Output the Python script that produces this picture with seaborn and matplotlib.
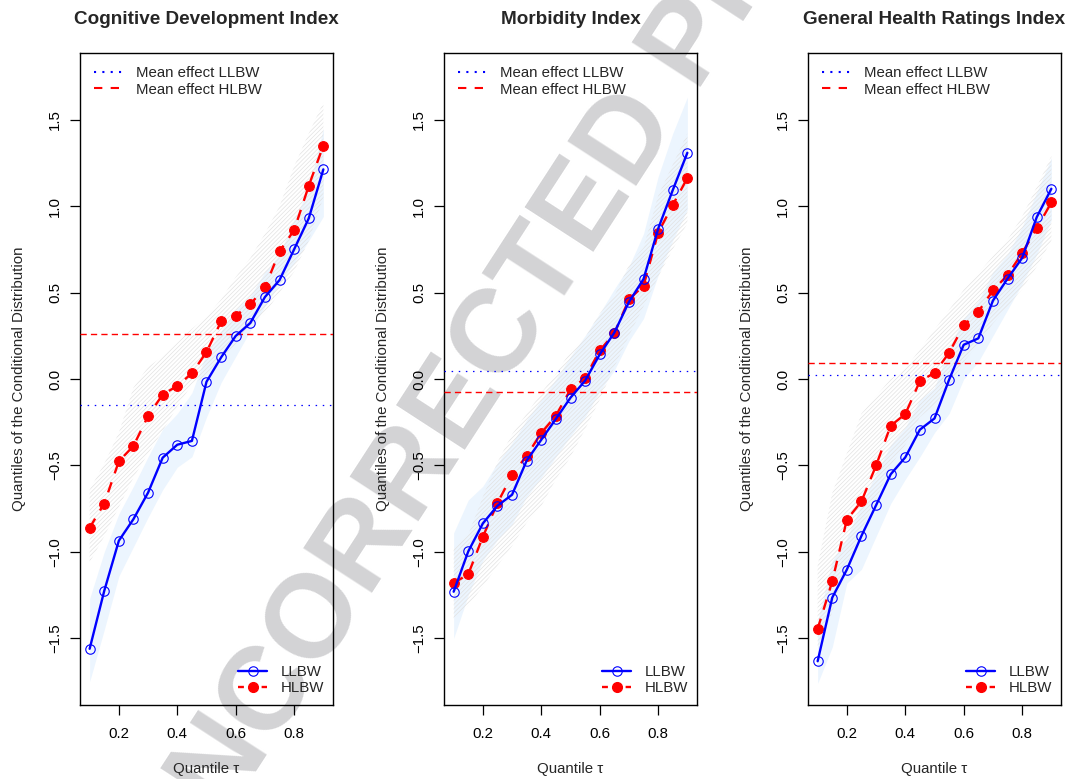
import matplotlib
matplotlib.use("Agg")
import matplotlib.pyplot as plt
import seaborn as sns
from matplotlib.lines import Line2D

# ---------------- data ----------------
tau = [0.10, 0.15, 0.20, 0.25, 0.30, 0.35, 0.40, 0.45, 0.50,
       0.55, 0.60, 0.65, 0.70, 0.75, 0.80, 0.85, 0.90]

titles = ["Cognitive Development Index", "Morbidity Index", "General Health Ratings Index"]

# Cognitive Development Index
cog_llbw = [-1.56, -1.225, -0.935, -0.81, -0.657, -0.455, -0.38, -0.358, -0.016,
            0.125, 0.249, 0.324, 0.474, 0.572, 0.75, 0.929, 1.212]
cog_hlbw = [-0.86, -0.72, -0.476, -0.387, -0.214, -0.09, -0.04, 0.033, 0.156,
            0.333, 0.366, 0.432, 0.53, 0.738, 0.861, 1.117, 1.35]
cog_llbw_lo = [-1.75, -1.45, -1.14, -0.97, -0.80, -0.64, -0.51, -0.45, -0.22,
               -0.02, 0.13, 0.28, 0.42, 0.55, 0.67, 0.80, 0.94]
cog_llbw_hi = [-1.27, -1.00, -0.78, -0.62, -0.45, -0.29, -0.20, -0.08, 0.15,
               0.28, 0.40, 0.48, 0.62, 0.72, 0.92, 1.10, 1.45]
cog_hlbw_lo = [-1.06, -0.91, -0.74, -0.57, -0.43, -0.30, -0.16, -0.03, 0.02,
               0.12, 0.20, 0.30, 0.38, 0.50, 0.62, 0.80, 1.05]
cog_hlbw_hi = [-0.64, -0.49, -0.31, -0.05, 0.07, 0.13, 0.21, 0.29, 0.36,
               0.46, 0.59, 0.70, 0.84, 1.00, 1.23, 1.42, 1.60]
cog_mean = [-0.148, 0.262]  # LLBW, HLBW

# Morbidity Index
mor_llbw = [-1.23, -0.997, -0.835, -0.733, -0.669, -0.472, -0.351, -0.231, -0.108,
            -0.01, 0.142, 0.268, 0.445, 0.578, 0.869, 1.092, 1.308]
mor_hlbw = [-1.18, -1.129, -0.912, -0.717, -0.555, -0.443, -0.312, -0.212, -0.06,
            0.006, 0.165, 0.264, 0.46, 0.539, 0.846, 1.006, 1.162]
mor_llbw_lo = [-1.50, -1.25, -1.05, -0.93, -0.84, -0.68, -0.57, -0.45, -0.33,
               -0.22, -0.07, 0.05, 0.22, 0.35, 0.60, 0.80, 0.98]
mor_llbw_hi = [-0.89, -0.70, -0.62, -0.485, -0.37, -0.235, -0.12, 0.0, 0.13,
               0.25, 0.38, 0.52, 0.65, 0.84, 1.17, 1.42, 1.63]
mor_hlbw_lo = [-1.39, -1.31, -1.20, -1.08, -0.965, -0.83, -0.735, -0.58, -0.45,
               -0.29, -0.12, 0.07, 0.25, 0.42, 0.59, 0.75, 0.90]
mor_hlbw_hi = [-0.98, -0.90, -0.68, -0.48, -0.32, -0.20, -0.08, 0.03, 0.16,
               0.24, 0.38, 0.48, 0.66, 0.76, 1.06, 1.24, 1.42]
mor_mean = [0.046, -0.075]

# General Health Ratings Index
gen_llbw = [-1.632, -1.264, -1.102, -0.907, -0.73, -0.551, -0.453, -0.293, -0.228,
            -0.004, 0.198, 0.235, 0.453, 0.58, 0.70, 0.936, 1.10]
gen_hlbw = [-1.445, -1.17, -0.813, -0.708, -0.5, -0.27, -0.203, -0.012, 0.035,
            0.152, 0.31, 0.389, 0.512, 0.601, 0.728, 0.871, 1.021]
gen_llbw_lo = [-1.76, -1.55, -1.18, -1.10, -0.91, -0.72, -0.58, -0.45, -0.31,
               -0.20, 0.00, 0.10, 0.25, 0.40, 0.55, 0.72, 0.92]
gen_llbw_hi = [-1.40, -1.05, -0.92, -0.72, -0.55, -0.38, -0.28, -0.12, -0.05,
               0.18, 0.35, 0.45, 0.62, 0.72, 0.88, 1.08, 1.28]
gen_hlbw_lo = [-1.55, -1.35, -1.08, -0.87, -0.70, -0.50, -0.38, -0.22, -0.15,
               -0.05, 0.10, 0.20, 0.32, 0.42, 0.52, 0.65, 0.80]
gen_hlbw_hi = [-1.08, -0.66, -0.43, -0.20, -0.10, 0.00, 0.06, 0.17, 0.285,
               0.40, 0.516, 0.61, 0.71, 0.805, 0.94, 1.11, 1.29]
gen_mean = [0.025, 0.09]

panels = [
    (cog_llbw, cog_hlbw, cog_llbw_lo, cog_llbw_hi, cog_hlbw_lo, cog_hlbw_hi, cog_mean),
    (mor_llbw, mor_hlbw, mor_llbw_lo, mor_llbw_hi, mor_hlbw_lo, mor_hlbw_hi, mor_mean),
    (gen_llbw, gen_hlbw, gen_llbw_lo, gen_llbw_hi, gen_hlbw_lo, gen_hlbw_hi, gen_mean),
]

xticks = [0.2, 0.4, 0.6, 0.8]
yticks = [-1.5, -1.0, -0.5, 0.0, 0.5, 1.0, 1.5]

# ---------------- style ----------------
sns.set_theme(style="white")
plt.rcParams["font.family"] = ["Liberation Sans", "DejaVu Sans"]
plt.rcParams["font.size"] = 10.8
plt.rcParams["hatch.linewidth"] = 0.5

W, H = 1067, 779
fig = plt.figure(figsize=(W / 100, H / 100), dpi=100)
fig.patch.set_facecolor("white")

# watermark (behind the axes content)
fig.text(552 / W, 1 - 316 / H, "UNCORRECTED PROOF", fontsize=85, fontweight="bold",
         color="#d3d3d5", rotation=57, rotation_mode="anchor",
         ha="center", va="baseline", zorder=-1)

lefts = [80, 444, 808]
ax_w, ax_top, ax_bot = 253, 53, 705

for i, (ll, hl, ll_lo, ll_hi, hl_lo, hl_hi, means) in enumerate(panels):
    ax = fig.add_axes([lefts[i] / W, 1 - ax_bot / H, ax_w / W, (ax_bot - ax_top) / H])
    ax.set_facecolor("none")

    # confidence bands
    ax.fill_between(tau, ll_lo, ll_hi, color="#ecf5fe", linewidth=0, zorder=1)
    ax.fill_between(tau, hl_lo, hl_hi, facecolor="none", edgecolor="#e2e2e2",
                    hatch="////////", linewidth=0, zorder=2)

    # mean effects
    ax.axhline(means[0], color="blue", lw=0.9, linestyle=(0, (1.2, 4.5)), zorder=3)
    ax.axhline(means[1], color="red", lw=1.0, linestyle=(0, (4.5, 3)), zorder=3)

    # quantile curves
    sns.lineplot(x=tau, y=ll, ax=ax, color="blue", lw=1.7, marker="o", markersize=6.8,
                 markerfacecolor="none", markeredgecolor="blue", markeredgewidth=0.8,
                 errorbar=None, legend=False, zorder=5)
    sns.lineplot(x=tau, y=hl, ax=ax, color="red", lw=1.7, linestyle=(0, (4.5, 4)),
                 marker="o", markersize=7, markerfacecolor="red", markeredgecolor="red",
                 markeredgewidth=0.8, errorbar=None, legend=False, zorder=4)

    ax.set_xlim(0.067, 0.933)
    ax.set_ylim(-1.885, 1.885)
    ax.set_xticks(xticks)
    ax.set_yticks(yticks)
    ax.tick_params(axis="both", which="major", direction="out", length=7, width=0.9,
                   labelsize=10.8, colors="black", bottom=True, left=True)
    ax.tick_params(axis="x", pad=9)
    ax.tick_params(axis="y", pad=6, labelrotation=90)
    for lab in ax.get_yticklabels():
        lab.set_va("center")
    for sp in ax.spines.values():
        sp.set_visible(True)
        sp.set_color("black")
        sp.set_linewidth(1.0)

    ax.set_title(titles[i], fontsize=13.6, fontweight="bold", pad=21)
    ax.set_xlabel("Quantile \u03c4", fontsize=10.8, labelpad=15)
    ax.set_ylabel("Quantiles of the Conditional Distribution", fontsize=10.8, labelpad=16)

    # legends
    h_mean = [Line2D([], [], color="blue", lw=1.5, linestyle=(0, (1, 3))),
              Line2D([], [], color="red", lw=1.5, linestyle=(0, (4, 4)))]
    leg1 = ax.legend(h_mean, ["Mean effect LLBW", "Mean effect HLBW"], loc="upper left",
                     bbox_to_anchor=(0.045, 0.984), frameon=False, fontsize=10.8,
                     handlelength=2.0, handletextpad=0.8, labelspacing=0.15,
                     borderaxespad=0, borderpad=0.2)
    ax.add_artist(leg1)
    h_ser = [Line2D([], [], color="blue", lw=1.7, marker="o", markersize=6.8,
                    markerfacecolor="none", markeredgecolor="blue", markeredgewidth=0.8),
             Line2D([], [], color="red", lw=1.7, linestyle=(0, (2.5, 2.5)), marker="o",
                    markersize=7, markerfacecolor="red", markeredgecolor="red")]
    ax.legend(h_ser, ["LLBW", "HLBW"], loc="lower right", bbox_to_anchor=(0.975, 0.01),
              frameon=False, fontsize=10.8, handlelength=1.9, handletextpad=0.9,
              labelspacing=0.15, borderaxespad=0, borderpad=0.2, numpoints=1)

fig.savefig("out.png", dpi=100, facecolor="white")
